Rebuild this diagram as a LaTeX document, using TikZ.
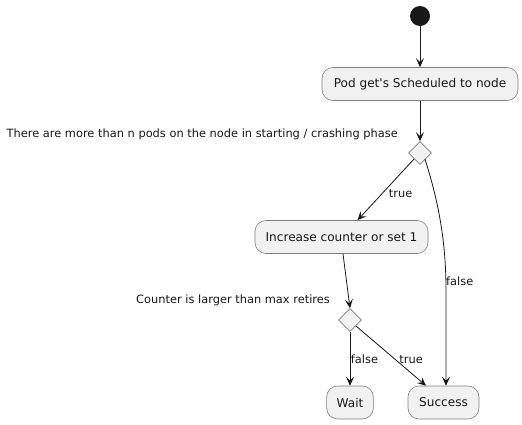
\documentclass[tikz,border=0pt]{standalone}
\usepackage{fontspec}
\newfontfamily\djv{DejaVu Sans}
\usetikzlibrary{arrows.meta,shapes.geometric}
\definecolor{boxfill}{HTML}{F1F1F1}
\definecolor{boxline}{HTML}{7F7F7F}
\definecolor{ink}{HTML}{181818}
\begin{document}
\begin{tikzpicture}[x=1pt,y=-1pt,
  act/.style={draw=boxline,fill=boxfill,rounded corners=11pt,minimum height=33pt,inner xsep=10pt,font=\djv\fontsize{12.1}{14}\selectfont,text=ink,line width=0.6pt},
  dec/.style={draw=boxline,fill=boxfill,diamond,minimum width=23pt,minimum height=23pt,inner sep=0pt,line width=0.6pt},
  lbl/.style={font=\djv\fontsize{11.4}{13}\selectfont,text=ink,inner sep=1pt},
  flow/.style={draw=ink,line width=0.8pt,-{Stealth[length=9pt,width=8pt,inset=4pt]}}]
\useasboundingbox (0,0) rectangle (522,424);
\node[circle,fill=ink,minimum size=20pt,inner sep=0pt] (start) at (420,16) {};
\node[act,minimum width=196pt] (pod) at (420,84) {Pod get's Scheduled to node};
\node[dec] (d1) at (420,153) {};
\node[lbl,anchor=east] (l1) at (399,134) {There are more than n pods on the node in starting / crashing phase};
\node[act,minimum width=173pt] (inc) at (341.5,237) {Increase counter or set 1};
\node[dec] (d2) at (350,320) {};
\node[lbl,anchor=east] (l2) at (331,300) {Counter is larger than max retires};
\node[act,minimum width=46pt] (wait) at (350,402.5) {Wait};
\node[act,minimum width=71pt] (succ) at (443.5,402.5) {Success};
\draw[flow] (start) -- (pod);
\draw[flow] (pod) -- (d1);
\draw[flow] (d1.south west) -- ([xshift=16pt]inc.north) node[lbl,pos=0.54,anchor=west,xshift=4pt,yshift=-2pt] (t1) {true};
\draw[flow] ([xshift=-1pt]d1.south east) .. controls (438,200) and (446,240) .. (446,290) -- ([xshift=2.5pt]succ.north);
\node[lbl,anchor=west] (f1) at (445,281) {false};
\draw[flow] (d2.south) -- (wait.north) node[lbl,midway,anchor=west,xshift=-0.5pt] (f2) {false};
\draw[flow] ([xshift=1.5pt]inc.south) -- (d2.north);
\draw[flow] (d2.south east) -- ([xshift=-17.5pt]succ.north) node[lbl,pos=0.53,anchor=west,xshift=5pt,yshift=-1.5pt] (t2) {true};
\end{tikzpicture}
\end{document}
